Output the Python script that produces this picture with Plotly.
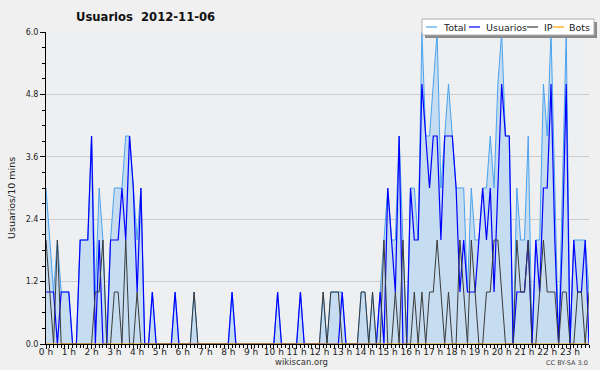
import plotly.graph_objects as go

# ---- data (10-minute slots, 2012-11-06) ----
slot_hours = [i / 6 for i in range(144)]
hour_ticks = list(range(24))
hour_labels = [f"{h} h" for h in hour_ticks]
y_ticks = [0.0, 1.2, 2.4, 3.6, 4.8, 6.0]

usuarios = [1, 1, 1, 0, 1, 1, 1, 0, 0, 2, 2, 2, 4, 0, 2, 0, 0, 2, 2, 2,
            3, 2, 4, 3, 1, 3, 0, 0, 1, 0, 0, 0, 0, 0, 1, 0, 0, 0, 0, 0,
            0, 0, 0, 0, 0, 0, 0, 0, 0, 1, 0, 0, 0, 0, 0, 0, 0, 0, 0, 0,
            0, 1, 0, 0, 0, 0, 0, 1, 0, 0, 0, 0, 0, 0, 0, 0, 0, 0, 1, 0,
            0, 0, 0, 0, 0, 0, 0, 0, 1, 0, 3, 2, 1, 4, 0, 0, 3, 2, 2, 5,
            4, 3, 4, 4, 2, 4, 4, 4, 3, 1, 2, 1, 1, 1, 2, 3, 2, 3, 1, 3,
            5, 4, 4, 0, 1, 1, 1, 2, 0, 2, 1, 3, 3, 5, 2, 0, 2, 5, 0, 2,
            1, 1, 2, 0]
ip = [2, 1, 0, 2, 0, 0, 0, 0, 0, 0, 0, 0, 0, 1, 1, 2, 0, 0, 1, 1,
      0, 2, 0, 0, 1, 0, 0, 0, 0, 0, 0, 0, 0, 0, 0, 0, 0, 0, 0, 1,
      0, 0, 0, 0, 0, 0, 0, 0, 0, 0, 0, 0, 0, 0, 0, 0, 0, 0, 0, 0,
      0, 0, 0, 0, 0, 0, 0, 0, 0, 0, 0, 0, 0, 1, 0, 1, 1, 1, 0, 0,
      0, 0, 0, 1, 1, 0, 1, 0, 0, 2, 0, 0, 1, 0, 2, 0, 0, 1, 0, 1,
      0, 1, 1, 2, 1, 0, 1, 0, 0, 2, 1, 0, 2, 1, 0, 0, 1, 1, 2, 2,
      1, 0, 0, 0, 2, 1, 1, 2, 0, 0, 1, 2, 1, 1, 1, 0, 1, 1, 0, 0,
      1, 1, 0, 1]
total = [3, 2, 1, 2, 1, 1, 1, 0, 0, 2, 2, 2, 4, 1, 3, 2, 0, 2, 3, 3,
         3, 4, 4, 3, 2, 3, 0, 0, 1, 0, 0, 0, 0, 0, 1, 0, 0, 0, 0, 1,
         0, 0, 0, 0, 0, 0, 0, 0, 0, 1, 0, 0, 0, 0, 0, 0, 0, 0, 0, 0,
         0, 1, 0, 0, 0, 0, 0, 1, 0, 0, 0, 0, 0, 1, 0, 1, 1, 1, 1, 0,
         0, 0, 0, 1, 1, 0, 1, 0, 1, 2, 3, 2, 2, 4, 2, 0, 3, 3, 2, 6,
         4, 4, 5, 6, 3, 4, 5, 4, 3, 3, 3, 1, 3, 2, 2, 3, 3, 4, 3, 5,
         6, 4, 4, 0, 3, 2, 2, 4, 0, 2, 2, 5, 4, 6, 3, 0, 3, 6, 0, 2,
         2, 2, 2, 1]
bots = [0] * 144

# ---- geometry helpers (pixel -> paper) ----
W, H = 600, 370
L, R, T, B = 46, 11, 32, 26
PW, PH = W - L - R, H - T - B


def px(x):
    return (x - L) / PW


def py(y):
    return (H - B - y) / PH


FONT = "DejaVu Sans"
C_TOTAL = "#4aa3ef"
C_FILL = "#c6dcf0"
C_USU = "#0000ff"
C_IP = "#3a3a3a"
C_BOTS = "#ffa000"

fig = go.Figure()
fig.add_trace(go.Scatter(x=slot_hours, y=total, name="Total", mode="lines",
                         line=dict(color=C_TOTAL, width=1), fill="tozeroy",
                         fillcolor=C_FILL))
fig.add_trace(go.Scatter(x=slot_hours, y=usuarios, name="Usuarios", mode="lines",
                         line=dict(color=C_USU, width=1.2)))
fig.add_trace(go.Scatter(x=slot_hours, y=ip, name="IP", mode="lines",
                         line=dict(color=C_IP, width=1)))
fig.add_trace(go.Scatter(x=slot_hours, y=bots, name="Bots", mode="lines",
                         line=dict(color=C_BOTS, width=1)))

fig.update_layout(
    width=W, height=H,
    margin=dict(l=L, r=R, t=T, b=B, autoexpand=False),
    paper_bgcolor="#f0f0f0",
    plot_bgcolor="#eeeff1",
    showlegend=False,
    font=dict(family=FONT, size=9, color="#222"),
)
fig.update_xaxes(
    automargin=False,
    range=[0, 143 / 6], tickvals=hour_ticks, ticktext=hour_labels,
    showgrid=False, zeroline=False, showline=True, linecolor="#000", linewidth=1,
    ticks="outside", ticklen=4, tickcolor="#000", tickwidth=1,
    ticklabelstandoff=-5,
    tickfont=dict(size=9, family=FONT, color="#222"),
    minor=dict(dtick=1 / 6, tick0=0, ticks="outside", ticklen=3, tickcolor="#000",
               showgrid=False),
)
fig.update_yaxes(
    automargin=False,
    range=[0, 6], tickvals=y_ticks, ticktext=[f"{v:.1f}" for v in y_ticks],
    showgrid=True, gridcolor="#cccccc", gridwidth=1, zeroline=False,
    showline=True, linecolor="#000", linewidth=1,
    ticks="outside", ticklen=5, tickcolor="#000",
    tickfont=dict(size=8, family=FONT, color="#222"),
    minor=dict(dtick=0.3, tick0=0, ticks="outside", ticklen=3, tickcolor="#000",
               showgrid=False),
)

shapes = []
# legend box with shadow
shapes.append(dict(type="rect", xref="paper", yref="paper",
                   x0=px(425), x1=px(597), y0=py(22), y1=py(38),
                   line=dict(width=0), fillcolor="#8a8a8a", layer="above"))
shapes.append(dict(type="rect", xref="paper", yref="paper",
                   x0=px(422), x1=px(594), y0=py(19), y1=py(35),
                   line=dict(color="#b0b0b0", width=1), fillcolor="#ffffff",
                   layer="above"))
legend_items = [("Total", C_TOTAL, 426, 441), ("Usuarios", C_USU, 469, 484),
                ("IP", C_IP, 527, 542), ("Bots", C_BOTS, 553, 567)]
annotations = []
for name, col, lx, tx in legend_items:
    shapes.append(dict(type="line", xref="paper", yref="paper",
                       x0=px(lx), x1=px(lx + 11), y0=py(27), y1=py(27),
                       line=dict(color=col, width=1.2), layer="above"))
    annotations.append(dict(text=name, xref="paper", yref="paper",
                            x=px(tx), y=py(27), xanchor="left", yanchor="middle",
                            showarrow=False, font=dict(size=9.5, family=FONT, color="#222")))

annotations += [
    dict(text="Usuarios\u00a0\u00a02012-11-06", xref="paper", yref="paper",
         x=px(74), y=py(17), xanchor="left", yanchor="middle", showarrow=False,
         font=dict(size=11.6, family=FONT, color="#111", weight="bold")),
    dict(text="Usuarios/10 mins", xref="paper", yref="paper",
         x=px(11), y=py(198), xanchor="center", yanchor="middle", textangle=-90,
         showarrow=False, font=dict(size=9.5, family=FONT, color="#222")),
    dict(text="wikiscan.org", xref="paper", yref="paper",
         x=px(301), y=py(362), xanchor="center", yanchor="middle",
         showarrow=False, font=dict(size=8.5, family=FONT, color="#333")),
    dict(text="CC BY-SA 3.0", xref="paper", yref="paper",
         x=px(590), y=py(363), xanchor="right", yanchor="middle",
         showarrow=False, font=dict(size=6.5, family=FONT, color="#444")),
]
fig.update_layout(shapes=shapes, annotations=annotations)

fig.write_html(
    "out.html",
    config={"displayModeBar": False},
    post_script=("document.body.style.margin='0';"
                 "var d=document.querySelector('.plotly-graph-div');"
                 "d.style.outline='1px solid #a8a8a8';d.style.outlineOffset='-1px';"),
)
